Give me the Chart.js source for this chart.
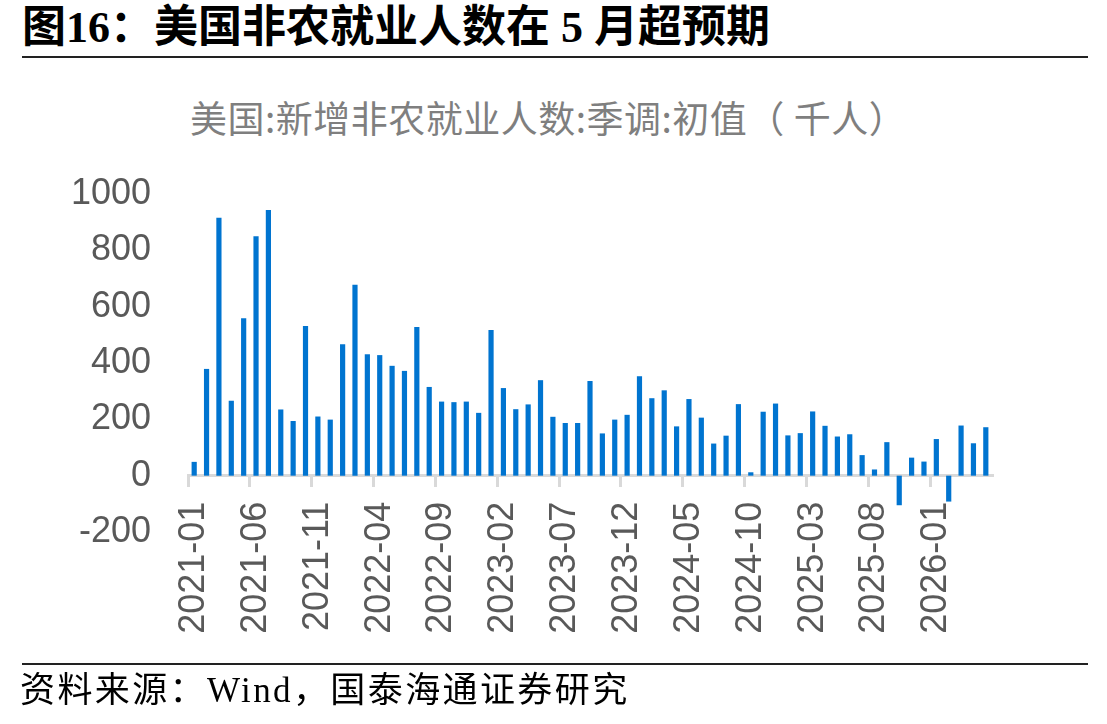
<!DOCTYPE html>
<html>
<head>
<meta charset="utf-8">
<script src="https://cdn.jsdelivr.net/npm/chart.js@4.4.1/dist/chart.umd.min.js"></script>
<style>
  body { margin: 0; width: 1107px; height: 724px; background: #fff; position: relative; overflow: hidden; }
  .title { position: absolute; left: 22px; top: 6px; font: bold 44px/44px "Liberation Serif", "Noto Sans CJK SC"; color: #000; white-space: nowrap; }
  .rule { position: absolute; left: 22px; width: 1066px; height: 2px; background: #222; }
  .subtitle { position: absolute; left: 190px; top: 97px; font: 37px/40px "Noto Sans CJK SC"; letter-spacing: 0.5px; color: #7f7f7f; white-space: nowrap; }
  .source { position: absolute; left: 20px; top: 672px; font: 35px/38px "Liberation Serif", "Noto Sans CJK SC"; letter-spacing: 2.4px; color: #000; white-space: nowrap; }
  #nfpChart { position: absolute; left: 0; top: 134px; }
</style>
</head>
<body>
<div class="title">图16：美国非农就业人数在 5 月超预期</div>
<div class="rule" style="top:56px"></div>
<div class="subtitle">美国:新增非农就业人数:季调:初值（ 千人）</div>
<canvas id="nfpChart" width="1107" height="540"></canvas>
<div class="rule" style="top:663px"></div>
<div class="source">资料来源：Wind，国泰海通证券研究</div>

<script>
// months 2021-01 .. 2026-05
var months = [
  '2021-01', '2021-02', '2021-03', '2021-04', '2021-05', '2021-06', '2021-07', '2021-08', '2021-09', '2021-10', '2021-11', '2021-12',
  '2022-01', '2022-02', '2022-03', '2022-04', '2022-05', '2022-06', '2022-07', '2022-08', '2022-09', '2022-10', '2022-11', '2022-12',
  '2023-01', '2023-02', '2023-03', '2023-04', '2023-05', '2023-06', '2023-07', '2023-08', '2023-09', '2023-10', '2023-11', '2023-12',
  '2024-01', '2024-02', '2024-03', '2024-04', '2024-05', '2024-06', '2024-07', '2024-08', '2024-09', '2024-10', '2024-11', '2024-12',
  '2025-01', '2025-02', '2025-03', '2025-04', '2025-05', '2025-06', '2025-07', '2025-08', '2025-09', '2025-10', '2025-11', '2025-12',
  '2026-01', '2026-02', '2026-03', '2026-04', '2026-05'
];

// nonfarm payrolls, first print, thousands
var payrolls = [
  49, 379, 916, 266, 559, 850, 943, 235, 194, 531, 210, 199,
  467, 678, 431, 428, 390, 372, 528, 315, 263, 261, 263, 223,
  517, 311, 236, 253, 339, 209, 187, 187, 336, 150, 199, 216,
  353, 275, 303, 175, 272, 206, 114, 142, 254, 12, 227, 256,
  143, 151, 228, 177, 139, 147, 73, 22, 119, -105, 64, 50,
  130, -92, 178, 115, 172
];

var yTicks = [-200, 0, 200, 400, 600, 800, 1000];
var labelEvery = 5;

var axisGrey = '#d9d9d9';
var textGrey = '#595959';

document.addEventListener('DOMContentLoaded', function () {
  var ctx = document.getElementById('nfpChart').getContext('2d');
  var nfpChart = new Chart(ctx, {
    type: 'bar',
    data: {
      labels: months,
      datasets: [{
        label: '美国:新增非农就业人数:季调:初值',
        data: payrolls,
        backgroundColor: '#0074d0',
        borderWidth: 0,
        categoryPercentage: 1,
        barPercentage: 0.42
      }]
    },
    options: {
      responsive: false,
      animation: false,
      devicePixelRatio: 1,
      // chart area: 188..992 wide, 194..532 tall on the page
      layout: {
        padding: { top: 60, right: 115, bottom: 142, left: 0 }
      },
      plugins: {
        legend: { display: false },
        tooltip: { enabled: false }
      },
      scales: {
        x: {
          position: { y: 0 },
          grid: {
            drawOnChartArea: false,
            drawTicks: true,
            tickLength: 10,
            lineWidth: 3,
            color: function (c) {
              return c.index % labelEvery === 0 ? axisGrey : 'rgba(0,0,0,0)';
            }
          },
          border: { display: true, color: axisGrey, width: 3 },
          ticks: {
            autoSkip: false,
            minRotation: 90,
            maxRotation: 90,
            padding: 16,
            color: textGrey,
            font: { family: 'Liberation Sans', size: 36 },
            callback: function (value, index) {
              return index % labelEvery === 0 ? months[index] : '';
            }
          }
        },
        y: {
          min: yTicks[0],
          max: yTicks[yTicks.length - 1],
          grid: { display: false },
          border: { display: false },
          afterBuildTicks: function (scale) {
            scale.ticks = yTicks.map(function (v) { return { value: v }; });
          },
          ticks: {
            padding: 29,
            color: textGrey,
            font: { family: 'Liberation Sans', size: 36 },
            callback: function (value) { return String(value); }
          },
          afterFit: function (scale) { scale.width = 188; }
        }
      }
    }
  });
});
</script>
</body>
</html>
